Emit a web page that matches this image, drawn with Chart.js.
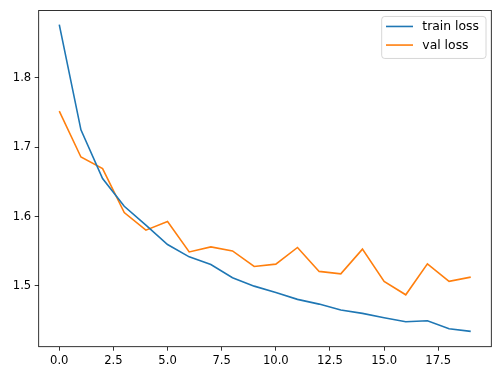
<!DOCTYPE html>
<html>
<head>
<meta charset="utf-8">
<script src="https://cdn.jsdelivr.net/npm/chart.js@4/dist/chart.umd.min.js"></script>
<style>
  html, body { margin: 0; padding: 0; background: #fff; }
  #wrap { width: 500px; height: 378px; }
</style>
</head>
<body>
<div id="wrap"><canvas id="lossChart" width="500" height="378"></canvas></div>
<script>
const epochs = [0, 1, 2, 3, 4, 5, 6, 7, 8, 9, 10, 11, 12, 13, 14, 15, 16, 17, 18, 19];
const trainLoss = [1.8767, 1.725, 1.6547, 1.6148, 1.5875, 1.5597, 1.5419, 1.5309, 1.5117, 1.4997,
                   1.4906, 1.4806, 1.4738, 1.4652, 1.4604, 1.4541, 1.4484, 1.4498, 1.4383, 1.4345];
const valLoss = [1.752, 1.6858, 1.669, 1.6058, 1.5803, 1.5928, 1.549, 1.5563, 1.5505, 1.528,
                 1.5314, 1.5554, 1.5209, 1.5174, 1.553, 1.5065, 1.4872, 1.5318, 1.5065, 1.5127];
const xTicks = [0, 2.5, 5, 7.5, 10, 12.5, 15, 17.5];
const yTicks = [1.5, 1.6, 1.7, 1.8];

const FONT = "'DejaVu Sans', sans-serif";

// frame round the plot area, like matplotlib spines
const framePlugin = {
  id: "frame",
  afterDraw(chart) {
    const { ctx, chartArea: a } = chart;
    ctx.save();
    ctx.strokeStyle = "#000";
    ctx.lineWidth = 0.8;
    ctx.strokeRect(a.left, a.top, a.right - a.left, a.bottom - a.top);
    ctx.restore();
  },
};

// legend box inside the upper right corner
const insideLegend = {
  id: "insideLegend",
  afterDraw(chart) {
    const { ctx, chartArea: a } = chart;
    const w = 104.3, h = 42;
    const x = a.right - 5.3 - w, y = a.top + 6;
    ctx.save();
    ctx.fillStyle = "rgba(255,255,255,0.8)";
    ctx.strokeStyle = "#cccccc";
    ctx.lineWidth = 0.8;
    ctx.beginPath();
    ctx.roundRect(x, y, w, h, 3);
    ctx.fill();
    ctx.stroke();
    ctx.font = "12.4px " + FONT;
    ctx.textBaseline = "middle";
    chart.data.datasets.forEach((ds, i) => {
      const ly = y + 10 + i * 18.6;
      ctx.strokeStyle = ds.borderColor;
      ctx.lineWidth = 1.6;
      ctx.beginPath();
      ctx.moveTo(x + 4.3, ly);
      ctx.lineTo(x + 31.3, ly);
      ctx.stroke();
      ctx.fillStyle = "#000";
      ctx.fillText(ds.label, x + 40.6, ly + 0.5);
    });
    ctx.restore();
  },
};

new Chart(document.getElementById("lossChart"), {
  type: "line",
  data: {
    datasets: [
      {
        label: "train loss",
        data: epochs.map((e, i) => ({ x: e, y: trainLoss[i] })),
        borderColor: "#1f77b4",
        borderWidth: 1.6,
        pointRadius: 0,
        tension: 0,
      },
      {
        label: "val loss",
        data: epochs.map((e, i) => ({ x: e, y: valLoss[i] })),
        borderColor: "#ff7f0e",
        borderWidth: 1.6,
        pointRadius: 0,
        tension: 0,
      },
    ],
  },
  options: {
    responsive: false,
    animation: false,
    layout: { padding: { left: 0, top: 9.7, right: 8.7, bottom: 0 } },
    plugins: { legend: { display: false }, tooltip: { enabled: false } },
    scales: {
      x: {
        type: "linear",
        min: -0.95,
        max: 19.95,
        afterBuildTicks: axis => { axis.ticks = xTicks.map(v => ({ value: v })); },
        afterFit: axis => { axis.height = 31.3; },
        grid: { drawOnChartArea: false, drawTicks: true, tickLength: 4, tickColor: "#000", tickWidth: 0.8 },
        border: { display: false },
        ticks: {
          color: "#000",
          font: { family: FONT, size: 11.6 },
          padding: 3,
          maxRotation: 0,
          callback: v => v.toFixed(1),
        },
      },
      y: {
        min: 1.4124,
        max: 1.897,
        afterBuildTicks: axis => { axis.ticks = yTicks.map(v => ({ value: v })); },
        afterFit: axis => { axis.width = 38.7; },
        grid: { drawOnChartArea: false, drawTicks: true, tickLength: 4, tickColor: "#000", tickWidth: 0.8 },
        border: { display: false },
        ticks: {
          color: "#000",
          font: { family: FONT, size: 11.6 },
          padding: 3.5,
          callback: v => v.toFixed(1),
        },
      },
    },
  },
  plugins: [framePlugin, insideLegend],
});
</script>
</body>
</html>
